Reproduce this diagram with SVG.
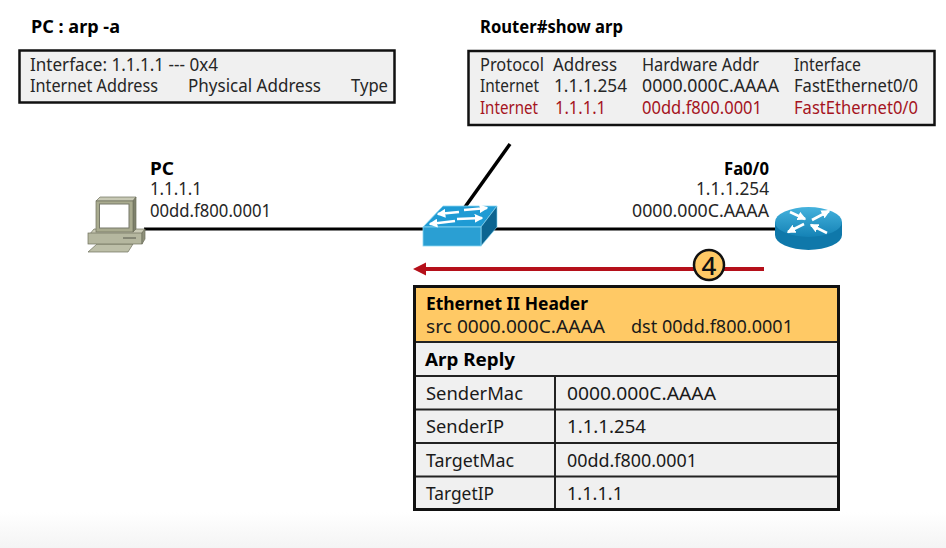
<svg xmlns="http://www.w3.org/2000/svg" width="946" height="548" viewBox="0 0 946 548">
<style>
text{font-family:"Noto Sans","Open Sans","Liberation Sans",sans-serif;font-size:17.5px;fill:#262626}
.t{font-size:18px;fill:#1a1a1a}
.b{font-weight:700;fill:#000}
.r{fill:#a5141e}
.box{fill:#f0f0f0;stroke:#111;stroke-width:2.5}
.link{stroke:#000;stroke-width:3;fill:none}
.pc{stroke:#6e705c;stroke-width:.7}
.arw{stroke:#fff;stroke-width:2.600;fill:none;marker-end:url(#wh)}
</style>
<defs>
<linearGradient id="bg" x1="0" y1="0" x2="0" y2="1"><stop offset="0" stop-color="#fff"/><stop offset="1" stop-color="#f4f4f4"/></linearGradient>
<linearGradient id="rt" x1="0" y1="0" x2="0" y2="1"><stop offset="0" stop-color="#45b2dd"/><stop offset="1" stop-color="#1482b5"/></linearGradient>
<marker id="wh" viewBox="0 0 6 6" refX="5" refY="3" markerWidth="3.400" markerHeight="3.400" orient="auto"><path d="M0 0L6 3L0 6Z" fill="#fff"/></marker>
</defs>
<rect width="946" height="548" fill="#fff"/>
<rect y="512" width="946" height="36" fill="url(#bg)"/>

<g id="connectors">
<line class="link" x1="144" y1="229" x2="425" y2="229"/>
<line class="link" x1="490" y1="229" x2="778" y2="229"/>
<line class="link" x1="465" y1="207" x2="510" y2="144" style="stroke-width:3.500"/>
<line x1="764" y1="269" x2="424" y2="269" stroke="#b5101a" stroke-width="4"/>
<polygon points="413,269 426,262.500 426,275.500" fill="#b5101a"/>
</g>

<g id="pc-arp">
<text class="b" x="31" y="33" textLength="89" lengthAdjust="spacingAndGlyphs">PC : arp -a</text>
<rect class="box" x="19.500" y="50.500" width="375" height="52"/>
<text x="30" y="71" textLength="188" lengthAdjust="spacingAndGlyphs">Interface: 1.1.1.1 --- 0x4</text>
<text x="30" y="92" textLength="128" lengthAdjust="spacingAndGlyphs">Internet Address</text>
<text x="188" y="92" textLength="133" lengthAdjust="spacingAndGlyphs">Physical Address</text>
<text x="351" y="92" textLength="37" lengthAdjust="spacingAndGlyphs">Type</text>
</g>

<g id="router-arp">
<text class="b" x="480" y="33" textLength="143" lengthAdjust="spacingAndGlyphs">Router#show arp</text>
<rect class="box" x="468.500" y="51" width="466" height="74"/>
<text x="480" y="71" textLength="64" lengthAdjust="spacingAndGlyphs">Protocol</text>
<text x="553" y="71" textLength="64" lengthAdjust="spacingAndGlyphs">Address</text>
<text x="642" y="71" textLength="117" lengthAdjust="spacingAndGlyphs">Hardware Addr</text>
<text x="794" y="71" textLength="67" lengthAdjust="spacingAndGlyphs">Interface</text>
<text x="480" y="92" textLength="59" lengthAdjust="spacingAndGlyphs">Internet</text>
<text x="554" y="92" textLength="73" lengthAdjust="spacingAndGlyphs">1.1.1.254</text>
<text x="642" y="92" textLength="137" lengthAdjust="spacingAndGlyphs">0000.000C.AAAA</text>
<text x="794" y="92" textLength="124" lengthAdjust="spacingAndGlyphs">FastEthernet0/0</text>
<text class="r" x="480" y="114" textLength="58" lengthAdjust="spacingAndGlyphs">Internet</text>
<text class="r" x="555" y="114" textLength="51" lengthAdjust="spacingAndGlyphs">1.1.1.1</text>
<text class="r" x="642" y="114" textLength="120" lengthAdjust="spacingAndGlyphs">00dd.f800.0001</text>
<text class="r" x="794" y="114" textLength="124" lengthAdjust="spacingAndGlyphs">FastEthernet0/0</text>
</g>

<g id="pc">
<polygon class="pc" points="88,252 97,244 133,244 128,252" fill="#bdbfa8"/>
<polygon class="pc" points="89,235 94,229 145,229 142,233 142,235" fill="#c9cab5"/>
<rect class="pc" x="88" y="233" width="54" height="11" fill="#b5b79f"/>
<polygon class="pc" points="142,233 145,229 145,239 142,244" fill="#8f917b"/>
<line x1="123" y1="238" x2="136" y2="238" stroke="#55574a"/>
<polygon class="pc" points="96,201 100,197 136,197 133,201" fill="#c8c9b5"/>
<polygon class="pc" points="133,201 136,197 136,229 133,232" fill="#7f816c"/>
<rect class="pc" x="96" y="201" width="37" height="31" fill="#a9ab8f"/>
<rect x="99.500" y="204" width="29.500" height="24" fill="#fff" stroke="#77796a"/>
<text class="b" x="150" y="175" textLength="24" lengthAdjust="spacingAndGlyphs">PC</text>
<text x="150" y="195" textLength="52" lengthAdjust="spacingAndGlyphs">1.1.1.1</text>
<text x="150" y="217" textLength="121" lengthAdjust="spacingAndGlyphs">00dd.f800.0001</text>
</g>

<g id="switch">
<polygon points="423,227 443,206 497,206 481,227" fill="#1f9bd4" stroke="#8ad6f2" stroke-width=".8"/>
<polygon points="481,227 497,206 497,227 481,246" fill="#0c6490" stroke="#8ad6f2" stroke-width=".6"/>
<rect x="423" y="227" width="58" height="19" fill="#2a9fd3" stroke="#8ad6f2" stroke-width=".8"/>
<line class="arw" x1="464" y1="210" x2="487" y2="208"/>
<line class="arw" x1="459" y1="212" x2="438" y2="214"/>
<line class="arw" x1="457" y1="219" x2="482" y2="218"/>
<line class="arw" x1="455" y1="221" x2="430" y2="224"/>
</g>

<g id="router">
<path d="M775 222V235A33.500 15 0 0 0 842 235V222Z" fill="#0f78aa"/>
<ellipse cx="808.500" cy="222" rx="33.500" ry="15" fill="url(#rt)"/>
<line class="arw" x1="790" y1="212" x2="805" y2="219"/>
<line class="arw" x1="812" y1="220" x2="829" y2="211"/>
<line class="arw" x1="804" y1="224" x2="788" y2="232"/>
<line class="arw" x1="827" y1="233" x2="811" y2="225"/>
<text class="b" x="724" y="175" textLength="45" lengthAdjust="spacingAndGlyphs">Fa0/0</text>
<text x="696" y="195" textLength="73" lengthAdjust="spacingAndGlyphs">1.1.1.254</text>
<text x="632" y="217" textLength="137" lengthAdjust="spacingAndGlyphs">0000.000C.AAAA</text>
</g>

<g id="step-4">
<circle cx="709" cy="265" r="15" fill="#ffc965" stroke="#111" stroke-width="2.500"/>
<text x="709" y="274.500" text-anchor="middle" style="font-size:26px;font-weight:500;fill:#111">4</text>
</g>

<g id="frame">
<rect x="414.500" y="287" width="424" height="55" fill="#ffc965"/>
<rect x="414.500" y="342" width="424" height="167" fill="#f0f0f0"/>
<path d="M414 342H838M414 376H838M414 409.500H838M414 443H838M414 476.500H838M555 376V509" fill="none" stroke="#222" stroke-width="2"/>
<rect x="414.500" y="286.500" width="424" height="223" fill="none" stroke="#111" stroke-width="3"/>
<text class="t b" x="426" y="310" textLength="162" lengthAdjust="spacingAndGlyphs">Ethernet II Header</text>
<text class="t" x="426" y="333" textLength="179" lengthAdjust="spacingAndGlyphs">src 0000.000C.AAAA</text>
<text class="t" x="631" y="333" textLength="162" lengthAdjust="spacingAndGlyphs">dst 00dd.f800.0001</text>
<text class="t b" x="425" y="366" textLength="90" lengthAdjust="spacingAndGlyphs">Arp Reply</text>
<text class="t" x="426" y="400" textLength="97" lengthAdjust="spacingAndGlyphs">SenderMac</text>
<text class="t" x="567" y="400" textLength="149" lengthAdjust="spacingAndGlyphs">0000.000C.AAAA</text>
<text class="t" x="426" y="433" textLength="78" lengthAdjust="spacingAndGlyphs">SenderIP</text>
<text class="t" x="567" y="433" textLength="79" lengthAdjust="spacingAndGlyphs">1.1.1.254</text>
<text class="t" x="426" y="467" textLength="88" lengthAdjust="spacingAndGlyphs">TargetMac</text>
<text class="t" x="567" y="467" textLength="130" lengthAdjust="spacingAndGlyphs">00dd.f800.0001</text>
<text class="t" x="426" y="500" textLength="68" lengthAdjust="spacingAndGlyphs">TargetIP</text>
<text class="t" x="567" y="500" textLength="56" lengthAdjust="spacingAndGlyphs">1.1.1.1</text>
</g>
</svg>
